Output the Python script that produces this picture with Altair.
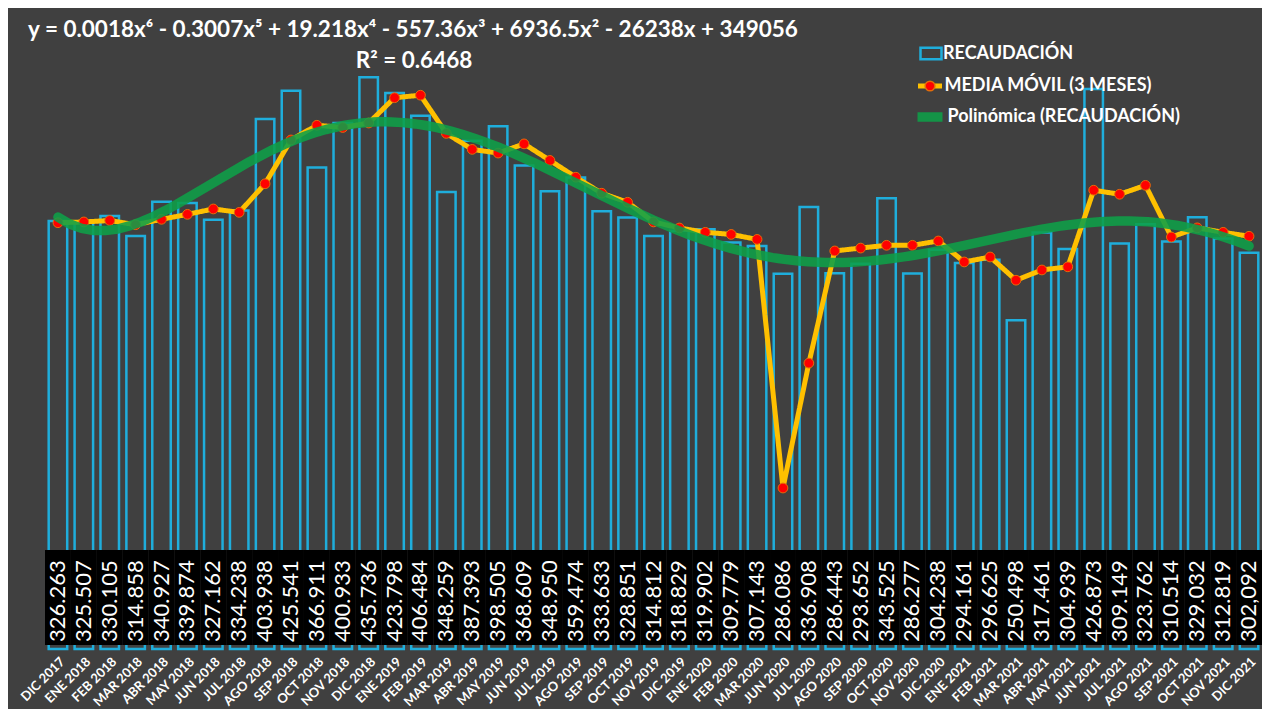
import altair as alt
import pandas as pd

meses = ["DIC 2017", "ENE 2018", "FEB 2018", "MAR 2018", "ABR 2018", "MAY 2018",
         "JUN 2018", "JUL 2018", "AGO 2018", "SEP 2018", "OCT 2018", "NOV 2018",
         "DIC 2018", "ENE 2019", "FEB 2019", "MAR 2019", "ABR 2019", "MAY 2019",
         "JUN 2019", "JUL 2019", "AGO 2019", "SEP 2019", "OCT 2019", "NOV 2019",
         "DIC 2019", "ENE 2020", "FEB 2020", "MAR 2020", "JUN 2020", "JUL 2020",
         "AGO 2020", "SEP 2020", "OCT 2020", "NOV 2020", "DIC 2020", "ENE 2021",
         "FEB 2021", "MAR 2021", "ABR 2021", "MAY 2021", "JUN 2021", "JUL 2021",
         "AGO 2021", "SEP 2021", "OCT 2021", "NOV 2021", "DIC 2021"]

recaudacion = [326.263, 325.507, 330.105, 314.858, 340.927, 339.874, 327.162, 334.238,
               403.938, 425.541, 366.911, 400.933, 435.736, 423.798, 406.484, 348.259,
               387.393, 398.505, 368.609, 348.950, 359.474, 333.633, 328.851, 314.812,
               318.829, 319.902, 309.779, 307.143, 286.086, 336.908, 286.443, 293.652,
               343.525, 286.277, 304.238, 294.161, 296.625, 250.498, 317.461, 304.939,
               426.873, 309.149, 323.762, 310.514, 329.032, 312.819, 302.092]

etiquetas = ["326.263", "325.507", "330.105", "314.858", "340.927", "339.874", "327.162",
             "334.238", "403.938", "425.541", "366.911", "400.933", "435.736", "423.798",
             "406.484", "348.259", "387.393", "398.505", "368.609", "348.950", "359.474",
             "333.633", "328.851", "314.812", "318.829", "319.902", "309.779", "307.143",
             "286.086", "336.908", "286.443", "293.652", "343.525", "286.277", "304.238",
             "294.161", "296.625", "250.498", "317.461", "304.939", "426.873", "309.149",
             "323.762", "310.514", "329.032", "312.819", "302,092"]

media_movil = [324.9, 325.5, 326.6, 323.4, 327.5, 331.3, 335.4, 332.8, 354.6, 388.0,
               399.2, 397.5, 400.9, 420.2, 422.1, 393.0, 380.8, 378.0, 385.0, 372.4,
               359.6, 347.4, 340.5, 325.5, 320.9, 317.6, 316.0, 312.2, 122.7, 217.9,
               303.4, 305.6, 307.7, 307.7, 311.0, 295.0, 298.8, 281.1, 288.9, 291.3,
               349.7, 346.6, 353.4, 314.0, 321.0, 317.6, 314.6]

ecuacion = "y = 0.0018x⁶ - 0.3007x⁵ + 19.218x⁴ - 557.36x³ + 6936.5x² - 26238x + 349056"
r2 = "R² = 0.6468"

SERIE_BAR = "RECAUDACIÓN"
SERIE_MM = "MEDIA MÓVIL (3 MESES)"
SERIE_POLY = "Polinómica (RECAUDACIÓN)"

CYAN = "#1FAEDC"
YELLOW = "#FFC000"
GREEN = "#0E9F48"
RED = "#FF0000"
RIM = "#E36C0A"
BG = "#404040"
FONT = "Lato"

df = pd.DataFrame({
    "idx": list(range(1, len(meses) + 1)),
    "mes": meses,
    "valor": recaudacion,
    "etiqueta": etiquetas,
    "media": media_movil,
})

label_expr = "[" + ",".join("'" + m + "'" for m in meses) + "][datum.value - 1]"

x_scale = alt.Scale(domain=[0.5, len(meses) + 0.5], nice=False, zero=False, padding=0)
x_axis = alt.Axis(values=list(range(1, len(meses) + 1)), labelExpr=label_expr, title=None,
                  labelAngle=-45, labelColor="white", labelFont=FONT, labelFontWeight="bold",
                  labelFontSize=13, labelPadding=6, ticks=False, domain=False, grid=False,
                  labelOverlap=False, labelFlush=False, labelBound=False)
y_scale = alt.Scale(domain=[0, 484], nice=False, zero=True)

X = alt.X("idx:Q", scale=x_scale, axis=x_axis)
Y = alt.Y("valor:Q", scale=y_scale, axis=None)
YM = alt.Y("media:Q", scale=y_scale, axis=None)

legend_common = dict(title=None, orient="none", labelColor="white", labelFont=FONT,
                     labelFontWeight="bold", labelFontSize=18, padding=0, labelLimit=500,
                     labelOffset=0)

# bars (outlined)
bars = alt.Chart(df).transform_calculate(s1="'" + SERIE_BAR + "'").mark_bar(
    filled=False, size=18.5, strokeWidth=2.5
).encode(
    x=X, y=Y,
    color=alt.Color("s1:N", scale=alt.Scale(domain=[SERIE_BAR], range=[CYAN]),
                    legend=alt.Legend(symbolType="M-1,-0.55H1V0.55H-1Z", symbolSize=441,
                                      symbolStrokeWidth=2.5, symbolFillColor="transparent",
                                      legendX=873, legendY=27.5, symbolOffset=1,
                                      **legend_common)),
)

# black label band
caja = alt.Chart(df).transform_calculate(
    x0="datum.idx - 0.5", x1="datum.idx + 0.5"
).mark_rect(color="black").encode(
    x=alt.X("x0:Q", scale=x_scale, axis=x_axis), x2="x1:Q",
    y=alt.value(536), y2=alt.value(631),
)

textos = alt.Chart(df).mark_text(
    angle=270, align="left", baseline="middle", font=FONT, fontSize=22, color="white"
).encode(x=X, y=alt.value(628), text="etiqueta:N")

linea_mm = alt.Chart(df).transform_calculate(s2="'" + SERIE_MM + "'").mark_line(
    color=YELLOW, strokeWidth=5, strokeJoin="round"
).encode(
    x=X, y=YM,
    strokeDash=alt.StrokeDash("s2:N", scale=alt.Scale(domain=[SERIE_MM], range=[[1, 0]]),
                              legend=alt.Legend(symbolType="stroke", symbolSize=576,
                                                symbolStrokeWidth=5, symbolStrokeColor=YELLOW,
                                                legendX=867.5, legendY=57.5, symbolOffset=3,
                                                **legend_common)),
)

puntos_mm = alt.Chart(df).transform_calculate(s2="'" + SERIE_MM + "'").mark_circle(
    color=RED, opacity=1, stroke=RIM, strokeWidth=1
).encode(
    x=X, y=YM,
    size=alt.Size("s2:O", scale=alt.Scale(domain=[SERIE_MM], range=[95, 95]),
                  legend=alt.Legend(symbolType="circle", labelExpr="''",
                                    legendX=876, legendY=63,
                                    **legend_common)),
)

tendencia = alt.Chart(df).transform_regression(
    "idx", "valor", method="poly", order=6
).transform_calculate(s3="'" + SERIE_POLY + "'").mark_line(
    color=GREEN, opacity=0.88, strokeCap="round"
).encode(
    x=X, y=Y,
    strokeWidth=alt.StrokeWidth("s3:O", scale=alt.Scale(domain=[SERIE_POLY], range=[9.5, 9.5]),
                                legend=alt.Legend(symbolType="stroke", symbolSize=625,
                                                  legendX=858.5, legendY=85.5, symbolOffset=9,
                                                  **legend_common)),
)

eq_df = pd.DataFrame({"t": [ecuacion]})
r2_df = pd.DataFrame({"t": [r2]})
texto_eq = alt.Chart(eq_df).mark_text(
    align="center", baseline="middle", font=FONT, fontWeight="bold", fontSize=22.5, color="white"
).encode(x=alt.value(368), y=alt.value(16), text="t:N")
texto_r2 = alt.Chart(r2_df).mark_text(
    align="center", baseline="middle", font=FONT, fontWeight="bold", fontSize=22.5, color="white"
).encode(x=alt.value(369), y=alt.value(47), text="t:N")

chart = alt.layer(
    bars, caja, textos, linea_mm, puntos_mm, tendencia, texto_eq, texto_r2
).resolve_scale(
    color="independent", size="independent", strokeWidth="independent",
    strokeDash="independent"
).properties(
    width=1217, height=635,
    autosize=alt.AutoSizeParams(type="none"),
    padding={"left": 37, "top": 6, "right": 0, "bottom": 60},
).configure(
    background=BG,
).configure_view(stroke=None)

chart.save("out.html", embed_options={"renderer": "svg", "actions": False})
